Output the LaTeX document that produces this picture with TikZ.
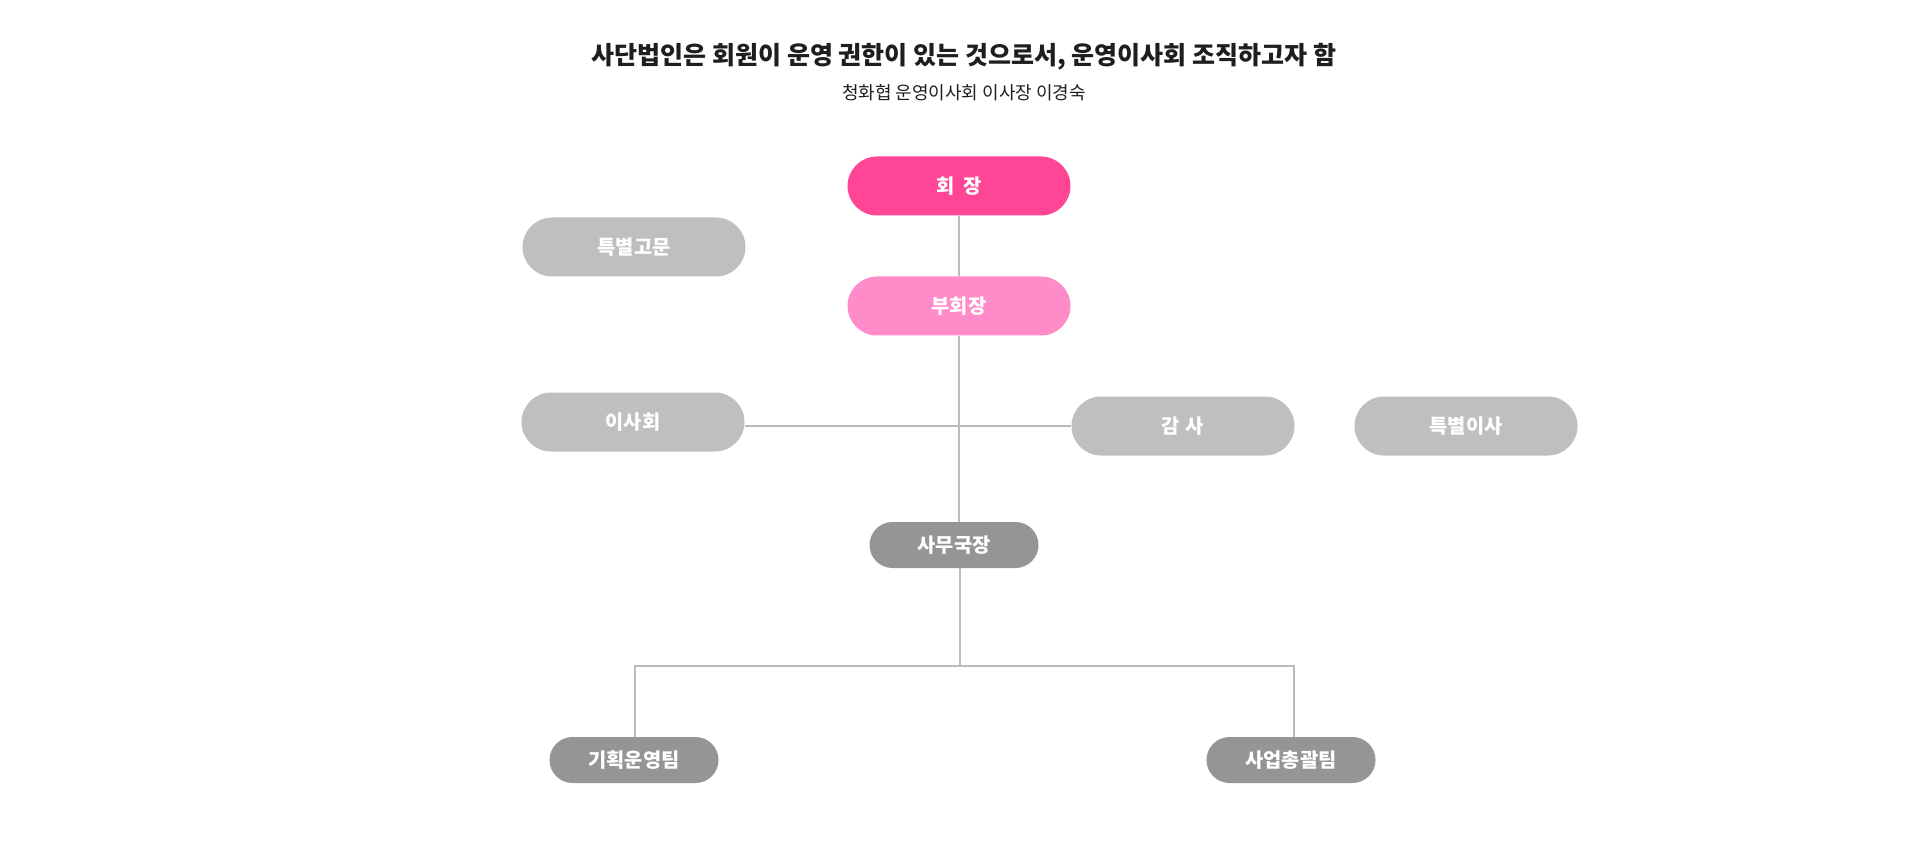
\documentclass[tikz,border=0pt]{standalone}
\usepackage{fontspec}
\setmainfont{Noto Sans CJK KR}
\usetikzlibrary{calc}
\definecolor{hot}{HTML}{FF4596}
\definecolor{lightpink}{HTML}{FF8CC8}
\definecolor{lgray}{HTML}{BFBFBF}
\definecolor{dgray}{HTML}{969494}
\definecolor{linegray}{HTML}{BBBBBB}
\definecolor{titlecol}{HTML}{1E1E1E}
\tikzset{
  bigpill/.style={rectangle, rounded corners=29.5pt, minimum width=223pt, minimum height=59pt, inner sep=0pt, text=white, font=\fontsize{19.8}{22}\selectfont\bfseries},
  smallpill/.style={rectangle, rounded corners=23pt, minimum width=169pt, minimum height=46pt, inner sep=0pt, fill=dgray, text=white, font=\fontsize{19.8}{22}\selectfont\bfseries},
  conn/.style={draw=linegray, line width=2pt}
}
\begin{document}
\begin{tikzpicture}[x=1pt,y=-1pt]
\useasboundingbox (0,0) rectangle (1920,850);
\node[text=titlecol, font=\fontsize{25}{28}\selectfont\bfseries] (title) at (964,57) {사단법인은 회원이 운영 권한이 있는 것으로서, 운영이사회 조직하고자 함};
\node[text=titlecol, font=\fontsize{18}{21}\selectfont] (sub) at (964,93) {청화협 운영이사회 이사장 이경숙};

\node[bigpill, fill=hot] (pres) at (959,186) {회\hspace{0.45em}장};
\node[bigpill, fill=lightpink] (vp) at (959,306) {부회장};
\node[bigpill, fill=lgray] (adv) at (634,247) {특별고문};
\node[bigpill, fill=lgray] (board) at (633,422) {이사회};
\node[bigpill, fill=lgray] (audit) at (1183,426) {감\hspace{0.3em}사};
\node[bigpill, fill=lgray] (sdir) at (1466,426) {특별이사};
\node[smallpill] (sec) at (954,545) {사무국장};
\node[smallpill] (plan) at (634,760) {기획운영팀};
\node[smallpill] (biz) at (1291,760) {사업총괄팀};

\coordinate (bus) at (960,666);

\draw[conn] (pres.south) -- (vp.north);
\draw[conn] (vp.south) -- (vp.south |- sec.north);
\draw[conn] (audit.west) -- (audit.west -| board.east);
\draw[conn] (sec.south -| bus) -- (bus);
\draw[conn] ([xshift=1pt]plan.north) |- (bus);
\draw[conn] ([xshift=3pt]biz.north) |- (bus);
\end{tikzpicture}
\end{document}
